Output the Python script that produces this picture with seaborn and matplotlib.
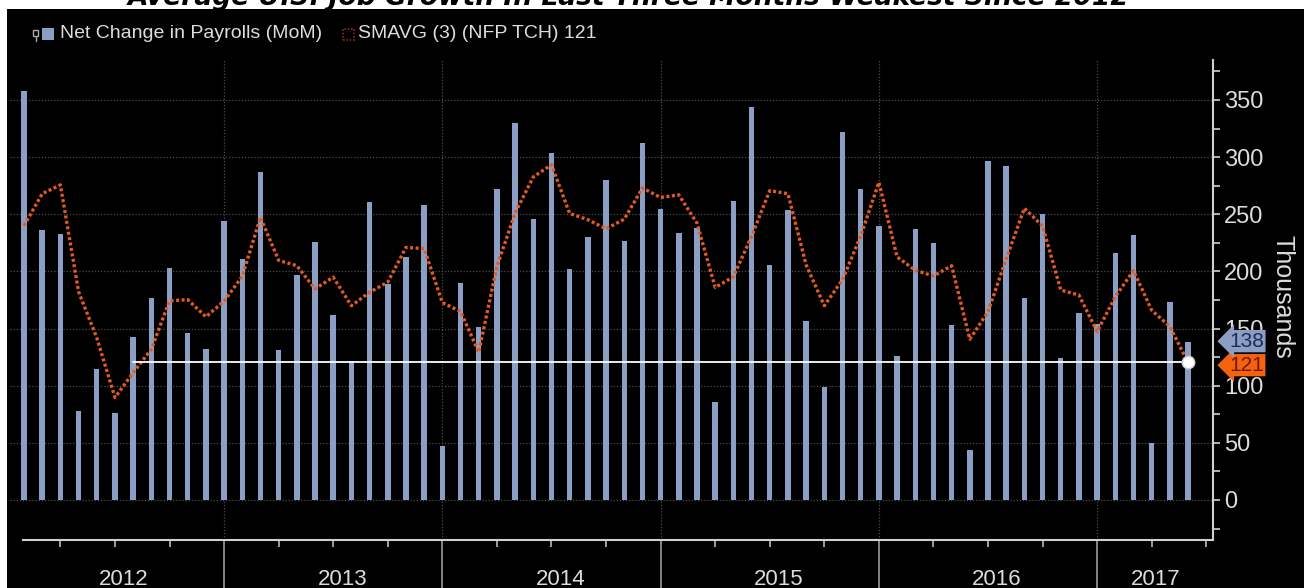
import numpy as np
import pandas as pd
import matplotlib
matplotlib.use("Agg")
import matplotlib.pyplot as plt
import matplotlib.transforms as mtransforms
from matplotlib.patches import Rectangle
import seaborn as sns

# ---------------- data ----------------
months = pd.date_range("2012-01-01", periods=65, freq="MS").strftime("%b %Y").tolist()
payrolls = [358, 236, 233, 78, 115, 76, 143, 177, 203, 146, 132, 244,
            211, 287, 131, 197, 226, 162, 122, 261, 189, 213, 258, 47,
            190, 151, 272, 330, 246, 304, 202, 230, 280, 227, 312, 255,
            234, 238, 86, 262, 344, 206, 254, 157, 99, 322, 272, 240,
            126, 237, 225, 153, 44, 297, 292, 177, 250, 124, 164, 154,
            216, 232, 50, 173, 138]
smavg3 = [240, 268, 275.7, 182.3, 142.0, 89.7, 111.3, 132.0, 174.3, 175.3, 160.3, 174.0,
          195.7, 247.3, 209.7, 205.0, 184.7, 195.0, 170.0, 181.7, 190.7, 221.0, 220.0, 172.7,
          165.0, 129.3, 204.3, 251.0, 282.7, 293.3, 250.7, 245.3, 237.3, 245.7, 273.0, 264.7,
          267.0, 242.3, 186.0, 195.3, 230.7, 270.7, 268.0, 205.7, 170.0, 192.7, 231.0, 278.0,
          212.7, 201.0, 196.0, 205.0, 140.7, 164.7, 211.0, 255.3, 239.7, 183.7, 179.3, 147.3,
          178.0, 200.7, 166.0, 151.7, 120.3]
years = ["2012", "2013", "2014", "2015", "2016", "2017"]
last_value = 138
threshold = 121
threshold_start = "Jul 2012"
title = "Average U.S. Job Growth In Last Three Months Weakest Since 2012"
legend_labels = ["Net Change in Payrolls (MoM)", "SMAVG (3) (NFP TCH) 121"]
y_ticks = [0, 50, 100, 150, 200, 250, 300, 350]

df = pd.DataFrame({"month": months, "idx": np.arange(len(months)),
                   "payrolls": payrolls, "smavg": smavg3})

# ---------------- styling ----------------
W, H = 1304, 588
BAR = "#8b9ec3"
LINE = "#e35a22"
TXT = "#dcdcdc"
GRID = "#4d4d4d"

sns.set_theme(style="white")
plt.rcParams["font.family"] = ["Liberation Sans", "DejaVu Sans"]

fig = plt.figure(figsize=(W / 100, H / 100), dpi=100)
fig.patch.set_facecolor("white")
fig.patches.append(Rectangle((7 / W, 0), 1 - 7 / W, 1 - 9 / H, transform=fig.transFigure,
                             facecolor="black", edgecolor="none", zorder=-10))


def fx(x):
    return x / W


def fy(y):
    return 1 - y / H


ax_left, ax_right, ax_top, ax_bot = 10, 1213, 60, 540
ax = fig.add_axes([fx(ax_left), fy(ax_bot), (ax_right - ax_left) / W, (ax_bot - ax_top) / H])
ax.set_facecolor("black")

sns.barplot(data=df, x="idx", y="payrolls", native_scale=True, color=BAR, saturation=1,
            width=0.30, edgecolor="none", linewidth=0, ax=ax, zorder=3)
sns.lineplot(data=df, x="idx", y="smavg", color=LINE, lw=2.4, ax=ax, zorder=4,
             linestyle=(0, (0.9, 0.75)))

# threshold line + end dot
i0 = months.index(threshold_start)
ax.plot([i0, len(months) - 1], [threshold, threshold], color="white", lw=1.3, zorder=5)
ax.plot([len(months) - 1], [threshold], marker="o", ms=9, mfc="white", mec="#cccccc",
        mew=1, zorder=6)

ax.set_xlim(-0.77, 65.37)
ax.set_ylim(-35, 385)

# grid
for v in y_ticks:
    ax.axhline(v, color=GRID, lw=0.9, ls=(0, (1, 1.5)), zorder=1)
year_sep = [11 + 12 * k for k in range(len(years) - 1)]
for s in year_sep:
    ax.axvline(s, color=GRID, lw=0.9, ls=(0, (1, 1.5)), zorder=1)

# spines
for sp in ["left", "top"]:
    ax.spines[sp].set_visible(False)
ax.spines["right"].set_color("#d0d0d0")
ax.spines["right"].set_linewidth(1.5)
ax.spines["bottom"].set_color("#d0d0d0")
ax.spines["bottom"].set_linewidth(1.5)
ax.spines["bottom"].set_bounds(-0.05, 65.37)

# y axis on the right
ax.yaxis.tick_right()
ax.set_yticks(y_ticks)
ax.set_yticklabels([str(v) for v in y_ticks])
ax.set_yticks([-25] + [v + 25 for v in y_ticks], minor=True)
ax.tick_params(axis="y", which="both", direction="out", length=5, width=1.2,
               colors="#d0d0d0", labelsize=17, pad=3, left=False, right=True)
for t in ax.get_yticklabels():
    t.set_color(TXT)
ax.set_ylabel("")
ax.set_xlabel("")

# x axis: quarter ticks
qticks = [q for q in range(2, 66, 3) if q not in year_sep]
ax.set_xticks(qticks)
ax.set_xticklabels([])
ax.tick_params(axis="x", which="both", direction="out", length=5, width=1.2,
               colors="#bbbbbb", bottom=True, top=False)

trans = mtransforms.blended_transform_factory(ax.transData, ax.transAxes)
for s in year_sep:
    ax.plot([s, s], [0, -0.11], color="#9a9a9a", lw=1.2, transform=trans, clip_on=False)
year_centers = [5.5 + 12 * k for k in range(len(years) - 1)] + [62.2]
for yr, c in zip(years, year_centers):
    ax.text(c, -0.083, yr, transform=trans, ha="center", va="center", fontsize=16,
            color=TXT)

# right-hand labels
transR = mtransforms.blended_transform_factory(fig.transFigure, ax.transData)
ax.text(fx(1229), last_value + 1, str(last_value), transform=transR, ha="left",
        va="center", fontsize=15, color="#1c2c55",
        bbox=dict(boxstyle="larrow,pad=0.08", fc=BAR, ec="none"), zorder=8, clip_on=False)
ax.text(fx(1229), threshold - 3, str(threshold), transform=transR, ha="left",
        va="center", fontsize=15, color="#7a1500",
        bbox=dict(boxstyle="larrow,pad=0.08", fc="#f2620f", ec="none"), zorder=7, clip_on=False)

fig.text(fx(1283), fy(297), "Thousands", rotation=270, ha="center", va="center",
         fontsize=18, color=TXT)

# legend (drawn by hand)
fig.patches.append(Rectangle((fx(33), fy(36)), 5 / W, 6 / H, transform=fig.transFigure,
                             fc="none", ec="#aaaaaa", lw=1))
fig.lines.append(plt.Line2D([fx(35.5), fx(35.5)], [fy(36), fy(41)], transform=fig.transFigure,
                            color="#aaaaaa", lw=1))
fig.patches.append(Rectangle((fx(42), fy(40)), 12 / W, 12 / H, transform=fig.transFigure,
                             fc=BAR, ec="none"))
fig.text(fx(60), fy(34), legend_labels[0], ha="left", va="center", fontsize=14, color=TXT)
fig.patches.append(Rectangle((fx(343), fy(40)), 11 / W, 11 / H, transform=fig.transFigure,
                             fc="none", ec="#8a2a10", lw=1.2, ls=(0, (1, 1))))
fig.text(fx(358), fy(34), legend_labels[1], ha="left", va="center", fontsize=14, color=TXT)

# title (cut off at the top edge, as in the reference)
t = fig.text(fx(128), fy(5), title, ha="left", va="baseline", fontsize=20,
             fontweight="bold", fontstyle="italic", color="black",
             family="DejaVu Sans", zorder=-5)
fig.canvas.draw()
wpx = t.get_window_extent().width
t.set_fontsize(20 * 1002 / wpx)

fig.savefig("out.png", dpi=100, facecolor=fig.get_facecolor())
